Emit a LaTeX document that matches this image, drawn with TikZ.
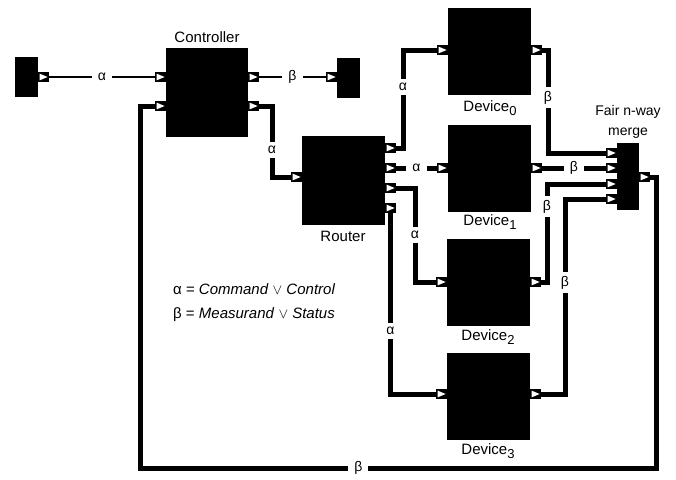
\documentclass[tikz,border=0pt]{standalone}
\usepackage{fontspec}
\setmainfont{Liberation Sans}
\begin{document}
\begin{tikzpicture}[x=1pt,y=-1pt,
  blk/.style={fill=black, inner sep=0pt, rectangle},
  devbox/.style={blk, minimum width=83pt, minimum height=87pt},
  port/.style={rectangle, fill=black, minimum width=11pt, minimum height=10pt, inner sep=0pt,
    path picture={\fill[white] ([xshift=1.6pt,yshift=3.4pt]path picture bounding box.west) -- ([xshift=-1.4pt]path picture bounding box.east) -- ([xshift=1.6pt,yshift=-3.4pt]path picture bounding box.west) -- cycle;}},
  wire/.style={line width=5pt},
  thinwire/.style={line width=2pt},
  lbl/.style={fill=white, inner xsep=6pt, inner ysep=4pt, font=\fontsize{14}{16}\selectfont},
  txt/.style={font=\fontsize{15}{18}\selectfont, inner sep=0pt}]
\useasboundingbox (0,0) rectangle (676,479);

% boxes
\node[blk, minimum width=23pt, minimum height=40pt] (src) at (26.5,77) {};
\node[blk, minimum width=82pt, minimum height=89pt] (ctrl) at (207,92.5) {};
\node[blk, minimum width=23pt, minimum height=40pt] (sink) at (348.5,78) {};
\node[blk, minimum width=83pt, minimum height=89pt] (router) at (343.5,180.5) {};
\node[devbox] (d0) at (489.5,51.5) {};
\node[devbox] (d1) at (489.5,168) {};
\node[devbox] (d2) at (488.5,282.5) {};
\node[devbox] (d3) at (488.5,396.5) {};
\node[blk, minimum width=22pt, minimum height=67pt] (merge) at (628,176.5) {};

% ports
\node[port] (s-out) at (43.5,77) {};
\node[port] (c-in1) at (160.5,77) {};
\node[port] (c-in2) at (160.5,106) {};
\node[port] (c-out1) at (253.5,77) {};
\node[port] (c-out2) at (253.5,106) {};
\node[port] (k-in) at (331.5,77) {};
\node[port] (r-in) at (296.5,177) {};
\node[port] (r-out1) at (390.5,148) {};
\node[port] (r-out2) at (390.5,168) {};
\node[port] (r-out3) at (390.5,188) {};
\node[port] (r-out4) at (390.5,208) {};
\node[port] (d0-in) at (442.5,50) {};
\node[port] (d0-out) at (536.5,50) {};
\node[port] (d1-in) at (442.5,168) {};
\node[port] (d1-out) at (536.5,168) {};
\node[port] (d2-in) at (441.5,282) {};
\node[port] (d2-out) at (535.5,282) {};
\node[port] (d3-in) at (441.5,394) {};
\node[port] (d3-out) at (535.5,394) {};
\node[port] (m-in1) at (611.5,153) {};
\node[port] (m-in2) at (611.5,168) {};
\node[port] (m-in3) at (611.5,184) {};
\node[port] (m-in4) at (611.5,199) {};
\node[port] (m-out) at (644.5,177) {};

% wires
\draw[thinwire] (s-out.east) -- node[lbl]{α} (c-in1.west);
\draw[thinwire] (c-out1.east) -- node[lbl]{β} (k-in.west);
\draw[wire] (c-out2.east) -- (272,106) -- node[lbl, pos=0.62]{α} (272,177) -- (r-in.west);
\draw[wire] (m-out.east) -- (656,177) -- (656,468) -- node[lbl, pos=0.577]{β} (140,468) -- (140,106) -- (c-in2.west);
\draw[wire] (r-out1.east) -- (403,148) -- node[lbl, pos=0.62]{α} (403,50) -- (d0-in.west);
\draw[wire] (r-out2.east) -- node[lbl]{α} (d1-in.west);
\draw[wire] (r-out3.east) -- (415,188) -- node[lbl]{α} (415,282) -- (d2-in.west);
\draw[wire] (r-out4.south) -- node[lbl, pos=0.65]{α} (390.5,394) -- (d3-in.west);
\draw[wire] (d0-out.east) -- (548,50) -- node[lbl, pos=0.46]{β} (548,153) -- (m-in1.west);
\draw[wire] (d1-out.east) -- node[lbl]{β} (m-in2.west);
\draw[wire] (d2-out.east) -- (547,282) -- node[lbl, pos=0.77]{β} (547,184) -- (m-in3.west);
\draw[wire] (d3-out.east) -- (565,394) -- node[lbl, pos=0.57]{β} (565,199) -- (m-in4.west);

% texts
\node[txt] (t-ctrl) at (207,37) {Controller};
\node[txt] (t-router) at (343,236) {Router};
\node[txt] (t-d0) at (490,108) {Device\raisebox{-3.5pt}{\fontsize{13}{15}\selectfont 0}};
\node[txt] (t-d1) at (490,222) {Device\raisebox{-3.5pt}{\fontsize{13}{15}\selectfont 1}};
\node[txt] (t-d2) at (488,337) {Device\raisebox{-3.5pt}{\fontsize{13}{15}\selectfont 2}};
\node[txt] (t-d3) at (488,451) {Device\raisebox{-3.5pt}{\fontsize{13}{15}\selectfont 3}};
\node[txt, align=center, font=\fontsize{14}{20}\selectfont] (t-merge) at (628,122) {Fair n-way\\merge};
\node[txt, anchor=west] (leg1) at (173,289) {α = \textit{Command} $\vee$ \textit{Control}};
\node[txt, anchor=west] (leg2) at (173,315) {β = \textit{Measurand} $\vee$ \textit{Status}};
\end{tikzpicture}
\end{document}
